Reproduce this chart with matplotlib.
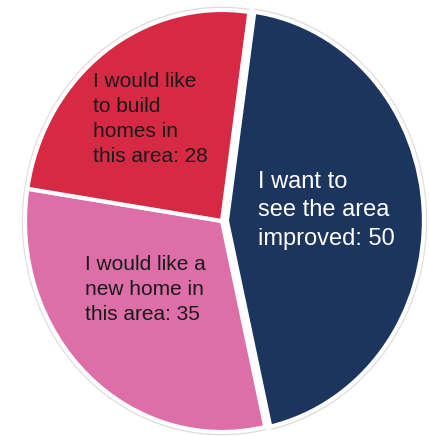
import matplotlib
matplotlib.use("Agg")
import matplotlib.pyplot as plt

labels = ["I want to\nsee the area\nimproved: 50",
          "I would like a\nnew home in\nthis area: 35",
          "I would like\nto build\nhomes in\nthis area: 28"]
values = [50, 35, 28]
colors = ["#1c355e", "#dd6ea8", "#d62944"]
text_colors = ["white", "#1a1a1a", "#1a1a1a"]
explode = [0.025, 0, 0]

W, H = 429, 436
fig = plt.figure(figsize=(W / 100, H / 100), dpi=100)
ax = fig.add_axes([0, 0, 1, 1])

start = 82
# soft grey rim behind the pie
ax.pie(values, explode=explode, colors=["#dcdcdc"] * 3, startangle=start,
       counterclock=False, radius=1.016, wedgeprops=dict(linewidth=0))
ax.pie(values, explode=explode, colors=colors, startangle=start,
       counterclock=False, radius=1.0,
       wedgeprops=dict(edgecolor="white", linewidth=3))

cx, cy, rx, ry = 222, 221, 197, 211
ax.set_aspect("auto")
ax.set_xlim(-cx / rx, (W - cx) / rx)
ax.set_ylim(-(H - cy) / ry, cy / ry)
ax.axis("off")

family = ["Liberation Sans", "DejaVu Sans"]
pos = [(258, 171, 17.0, 1.38), (85, 255, 15.0, 1.40), (93, 72, 15.0, 1.40)]
for lab, tc, (px, py, fs, ls) in zip(labels, text_colors, pos):
    fig.text(px / W, 1 - py / H, lab, color=tc, fontsize=fs, family=family,
             ha="left", va="top", linespacing=ls)

fig.savefig("out.png", dpi=100, facecolor="white")
